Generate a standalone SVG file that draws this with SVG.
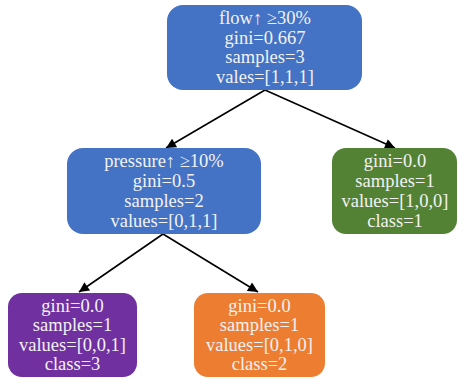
<svg xmlns="http://www.w3.org/2000/svg" width="458" height="382" viewBox="0 0 458 382">
<defs>
<marker id="ah" viewBox="0 0 10 10" refX="10" refY="5" markerWidth="12" markerHeight="10" markerUnits="userSpaceOnUse" orient="auto">
<path d="M0,0 L10,5 L0,10 z" fill="#000"/>
</marker>
</defs>
<style>
.n text{font-family:"Liberation Serif","Times New Roman",serif;font-size:18.5px;fill:#f2f2f2;text-anchor:middle}
.e line{stroke:#000;stroke-width:1.6;marker-end:url(#ah)}
</style>
<rect width="458" height="382" fill="#fff"/>
<g id="edges" class="e">
<line x1="265" y1="90" x2="166" y2="148"/>
<line x1="265" y1="90" x2="395" y2="148"/>
<line x1="163" y1="234" x2="79" y2="292"/>
<line x1="163" y1="234" x2="258" y2="292"/>
</g>
<g id="root" class="n">
<rect x="167" y="5" width="195" height="85" rx="16" fill="#4472C4"/>
<text x="265" y="24">flow↑ ≥30%</text>
<text x="265" y="44">gini=0.667</text>
<text x="265" y="63">samples=3</text>
<text x="265" y="83">vales=[1,1,1]</text>
</g>
<g id="pressure" class="n">
<rect x="67" y="148" width="194" height="86" rx="16" fill="#4472C4"/>
<text x="164" y="167">pressure↑ ≥10%</text>
<text x="164" y="187">gini=0.5</text>
<text x="164" y="207">samples=2</text>
<text x="164" y="227">values=[0,1,1]</text>
</g>
<g id="leaf1" class="n">
<rect x="332" y="148" width="125" height="86" rx="14" fill="#548235"/>
<text x="395" y="167">gini=0.0</text>
<text x="395" y="187">samples=1</text>
<text x="395" y="207">values=[1,0,0]</text>
<text x="395" y="227">class=1</text>
</g>
<g id="leaf3" class="n">
<rect x="8" y="293" width="129" height="84" rx="14" fill="#7030A0"/>
<text x="72.5" y="312">gini=0.0</text>
<text x="72.5" y="331">samples=1</text>
<text x="72.5" y="351">values=[0,0,1]</text>
<text x="72.5" y="370">class=3</text>
</g>
<g id="leaf2" class="n">
<rect x="194" y="293" width="131" height="84" rx="14" fill="#ED7D31"/>
<text x="259.5" y="312">gini=0.0</text>
<text x="259.5" y="331">samples=1</text>
<text x="259.5" y="351">values=[0,1,0]</text>
<text x="259.5" y="370">class=2</text>
</g>
</svg>
